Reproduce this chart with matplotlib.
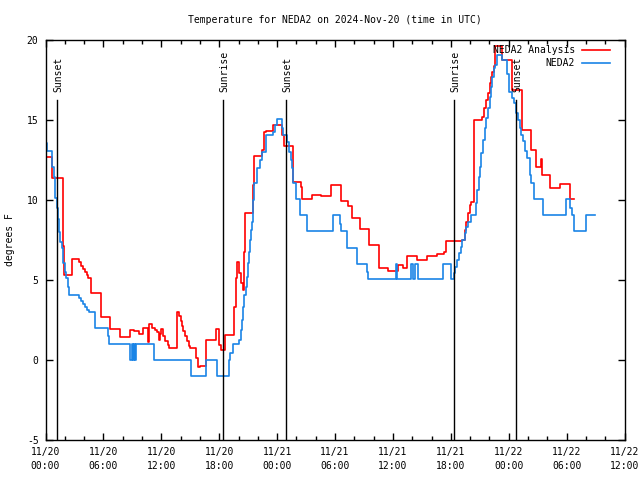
import matplotlib
matplotlib.use('Agg')
import matplotlib.pyplot as plt
from matplotlib.lines import Line2D
from matplotlib.transforms import offset_copy

plt.rcParams['font.family'] = ['DejaVu Sans Mono']
plt.rcParams['font.size'] = 7

title = "Temperature for NEDA2 on 2024-Nov-20 (time in UTC)"
ylabel = "degrees F"

x_ticks = [0, 6, 12, 18, 24, 30, 36, 42, 48, 54, 60]
x_tick_labels = ["11/20\n00:00", "11/20\n06:00", "11/20\n12:00", "11/20\n18:00",
                 "11/21\n00:00", "11/21\n06:00", "11/21\n12:00", "11/21\n18:00",
                 "11/22\n00:00", "11/22\n06:00", "11/22\n12:00"]
y_ticks = [-5, 0, 5, 10, 15, 20]

# NEDA2 Analysis (hours since 11/20 00:00 UTC, degrees F)
analysis_hours = [0.0, 0.72, 1.83, 1.95, 2.79, 3.44, 3.65, 3.85, 4.05, 4.25, 4.45, 4.73,
                  5.76, 6.72, 7.76, 8.72, 9.14, 9.72, 10.07, 10.62, 10.76, 11.03, 11.3,
                  11.55, 11.72, 11.9, 12.0, 12.14, 12.41, 12.69, 12.76, 12.86, 13.62,
                  13.86, 14.0, 14.15, 14.3, 14.48, 14.65, 14.83, 15.0, 15.62, 15.79,
                  16.03, 16.62, 17.66, 17.93, 18.17, 18.62, 19.58, 19.69, 19.89, 20.1,
                  20.24, 20.45, 20.62, 20.69, 21.55, 21.65, 22.41, 22.69, 22.83, 23.62,
                  24.55, 24.69, 25.62, 26.45, 26.62, 27.65, 28.55, 29.62, 30.58, 31.38,
                  31.79, 32.58, 33.51, 34.58, 35.51, 36.48, 37.07, 37.48, 38.45, 39.55,
                  40.62, 41.27, 41.55, 43.2, 43.44, 43.62, 43.79, 43.96, 44.14, 44.24,
                  44.41, 45.27, 45.45, 45.69, 45.86, 46.03, 46.14, 46.31, 46.45, 46.55,
                  47.34, 48.38, 49.38, 50.34, 50.86, 51.31, 51.45, 52.31, 53.34, 54.31,
                  54.76]
analysis_temps = [12.7, 11.4, 7.1, 5.3, 6.3, 6.1, 5.9, 5.7, 5.5, 5.3, 5.1, 4.2,
                  2.7, 1.95, 1.45, 1.9, 1.8, 1.6, 2.0, 1.15, 2.25, 2.0, 1.85,
                  1.77, 1.25, 1.6, 1.92, 1.5, 1.2, 0.94, 0.73, 0.77, 2.98,
                  2.75, 2.45, 2.1, 1.8, 1.5, 1.2, 0.9, 0.77, 0.1, -0.46,
                  -0.38, 1.25, 1.92, 0.94, 0.625, 1.56, 3.33, 5.15, 6.1, 5.42,
                  4.79, 4.375, 6.77, 9.17, 10.94, 12.75, 13.125, 14.27, 14.3, 14.69,
                  14.06, 13.375, 11.1, 10.8, 10.04, 10.3, 10.25, 10.92, 9.94, 9.6,
                  8.85, 8.17, 7.17, 5.73, 5.56, 5.94, 5.73, 6.52, 6.25, 6.48,
                  6.625, 6.75, 7.44, 7.5, 8.1, 8.65, 9.17, 9.69, 9.9, 9.9,
                  15.0, 15.17, 15.73, 16.25, 16.67, 17.3, 17.7, 18.0, 18.4, 19.64,
                  18.75, 16.875, 14.4, 13.125, 12.04, 12.54, 11.56, 10.73, 10.98, 10.04,
                  10.04]

# NEDA2 observations
neda2_hours = [0.0, 0.17, 0.69, 0.83, 1.0, 1.24, 1.31, 1.41, 1.52, 1.69, 1.83, 2.0,
               2.1, 2.28, 2.41, 3.52, 3.7, 3.9, 4.1, 4.3, 4.55, 5.1, 6.48, 6.55,
               8.79, 8.97, 9.07, 9.21, 9.31, 9.41, 11.21, 15.07, 16.62, 17.82,
               18.97, 19.07, 19.48, 20.1, 20.24, 20.38, 20.51, 20.62, 20.75, 20.86,
               20.96, 21.1, 21.2, 21.31, 21.45, 21.55, 21.65, 21.89, 22.24, 22.41,
               22.86, 23.62, 23.79, 23.96, 24.55, 24.65, 25.07, 25.27, 25.41, 25.51,
               25.69, 25.96, 26.38, 27.1, 29.83, 30.52, 30.58, 31.24, 32.24, 33.34,
               33.44, 36.27, 36.38, 37.86, 38.1, 38.27, 38.62, 41.2, 42.07, 42.24,
               42.35, 42.48, 42.66, 42.83, 43.03, 43.2, 43.44, 43.62, 43.79, 44.14,
               44.66, 44.76, 44.9, 45.0, 45.17, 45.35, 45.52, 45.69, 45.86, 46.03,
               46.14, 46.31, 46.48, 46.55, 46.83, 47.3, 47.8, 48.0, 48.3, 48.52,
               48.72, 48.96, 49.14, 49.31, 49.48, 49.65, 49.89, 50.17, 50.34, 50.59,
               51.55, 53.89, 54.4, 54.55, 54.72, 55.96, 56.9]
neda2_temps = [13.55, 13.08, 12.08, 11.46, 10.1, 9.5, 8.8, 8.0, 7.4, 6.98, 6.04, 5.52,
               5.1, 4.58, 4.06, 3.9, 3.7, 3.5, 3.3, 3.1, 3.0, 2.0, 1.5, 1.0,
               0.0, 1.0, 0.0, 1.0, 0.0, 1.0, 0.0, -1.0, 0.0, -1.0,
               0.0, 0.42, 0.98, 1.25, 1.875, 2.5, 3.33, 4.06, 4.58, 5.2,
               6.04, 6.77, 7.5, 8.125, 8.65, 10.0, 11.04, 12.02, 12.5, 13.02,
               14.06, 14.27, 14.69, 15.04, 14.48, 14.06, 13.64, 13.02, 12.5, 11.98,
               11.04, 10.06, 9.06, 8.06, 9.06, 8.5, 8.06, 6.98, 5.98, 5.5,
               5.04, 5.98, 5.04, 5.98, 5.04, 5.98, 5.04, 5.98, 5.04, 5.04,
               5.42, 5.83, 6.25, 6.67, 7.08, 7.5, 7.92, 8.33, 8.65, 9.06,
               9.79, 10.625, 11.46, 12.08, 12.92, 13.75, 14.48, 15.1, 15.73, 16.46,
               17.08, 17.7, 18.23, 18.44, 19.06, 18.75, 17.9, 16.77, 16.4, 16.08,
               15.42, 15.0, 14.5, 14.06, 13.67, 13.08, 12.6, 11.56, 11.04, 10.04,
               9.06, 10.04, 9.5, 9.06, 8.06, 9.06, 9.06]

event_hours = [1.14, 18.41, 24.93, 42.31, 48.72]
event_labels = ["Sunset", "Sunrise", "Sunset", "Sunrise", "Sunset"]

series_names = ["NEDA2 Analysis", "NEDA2"]
series_colors = ["#ff0000", "#1a84e6"]

fig = plt.figure(figsize=(6.4, 4.8), dpi=100)
ax = fig.add_axes([45.5 / 640, 40 / 480, 579 / 640, 400 / 480])

ax.step(analysis_hours, analysis_temps, where='post', color=series_colors[0], lw=1.2)
ax.step(neda2_hours, neda2_temps, where='post', color=series_colors[1], lw=1.2)

ax.set_xlim(0, 60)
ax.set_ylim(-5, 20)

line_top = 0.85
for h, lab in zip(event_hours, event_labels):
    ax.axvline(h, ymin=0, ymax=line_top, color='black', lw=1.0)
    tr = offset_copy(ax.get_xaxis_transform(), fig=fig, x=1.5, y=0, units='dots')
    ax.text(h, line_top + 0.02, lab, rotation=90, ha='center', va='bottom',
            transform=tr, fontsize=7)

ax.set_xticks(x_ticks)
ax.set_xticklabels(x_tick_labels)
for lbl in ax.get_xticklabels():
    lbl.set_linespacing(1.45)
ax.set_xticks([t for t in range(0, 61, 2) if t % 6 != 0], minor=True)
ax.set_yticks(y_ticks)
ax.set_yticklabels([str(v) for v in y_ticks])
ax.tick_params(axis='both', which='both', direction='in', top=True, right=True,
               labelsize=7, colors='black')
ax.tick_params(axis='both', which='major', length=5, width=1)
ax.tick_params(axis='x', which='major', pad=5)
ax.tick_params(axis='y', which='major', pad=5)
ax.tick_params(axis='x', which='minor', length=3, width=1)
for s in ax.spines.values():
    s.set_linewidth(1.0)

fig.text(335 / 640, 1 - 20 / 480, title, ha='center', va='center', fontsize=7)
fig.text(10 / 640, 0.5, ylabel, rotation=90, ha='center', va='center', fontsize=7)

# legend (gnuplot style: right-aligned text, line sample on the right)
for i, (name, col) in enumerate(zip(series_names, series_colors)):
    y_ax = (440 - (50 + i * 13)) / 400
    ax.text((575 - 45.5) / 579, y_ax, name, ha='right', va='center',
            transform=ax.transAxes, fontsize=7)
    ax.add_line(Line2D([(582 - 45.5) / 579, (610 - 45.5) / 579], [y_ax, y_ax],
                       transform=ax.transAxes, color=col, lw=1.2))

fig.savefig('out.png', dpi=100)
